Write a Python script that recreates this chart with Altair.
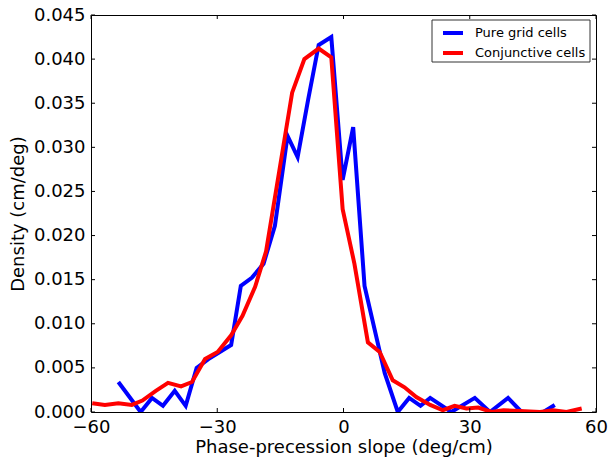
import altair as alt
import pandas as pd

# Pure grid cells
blue_x = [-53.5, -48.2, -45.5, -42.9, -40.1, -37.5, -34.9, -32.1, -29.4, -26.7,
          -24.4, -21.8, -19.0, -16.3, -13.3, -10.9, -8.4, -5.9, -2.9, -0.2,
          2.3, 5.0, 9.8, 12.9, 15.6, 18.3, 20.6, 25.6, 31.2, 34.8, 39.1, 42.3,
          47.5, 50.2]
blue_y = [0.0034, 0.0000, 0.0016, 0.0007, 0.0024, 0.0007, 0.0050, 0.0060, 0.0068, 0.0076,
          0.0143, 0.0152, 0.0168, 0.0211, 0.0313, 0.0289, 0.0354, 0.0416, 0.0425, 0.0263,
          0.0323, 0.0143, 0.0044, 0.0000, 0.0016, 0.0007, 0.0016, 0.0000, 0.0016, 0.0000,
          0.0016, 0.0000, 0.0000, 0.0008]

# Conjunctive cells
red_x = [-59.7, -56.7, -53.5, -50.3, -47.8, -44.6, -41.7, -38.6, -36.0, -32.9,
         -29.9, -26.7, -24.0, -21.0, -18.4, -15.3, -12.2, -9.3, -5.9, -2.9,
         -0.2, 2.6, 5.8, 8.6, 11.7, 14.5, 17.3, 20.6, 23.6, 26.4,
         29.2, 32.0, 35.2, 38.0, 41.9, 46.7, 49.8, 53.0, 56.6]
red_y = [0.0010, 0.0008, 0.0010, 0.0008, 0.0013, 0.0024, 0.0033, 0.0029, 0.0034, 0.0060,
         0.0068, 0.0087, 0.0109, 0.0142, 0.0182, 0.0272, 0.0362, 0.0400, 0.0412, 0.0402,
         0.0230, 0.0168, 0.0079, 0.0068, 0.0036, 0.0028, 0.0017, 0.0008, 0.0002, 0.0007,
         0.0004, 0.0005, 0.0000, 0.0002, 0.0001, 0.0000, 0.0002, 0.0000, 0.0004]

series_names = ["Pure grid cells", "Conjunctive cells"]
series_colors = ["#0000ff", "#ff0000"]

x_ticks = [-60, -30, 0, 30, 60]
y_ticks = [0.000, 0.005, 0.010, 0.015, 0.020, 0.025, 0.030, 0.035, 0.040, 0.045]

W, H = 505, 397
FONT = "DejaVu Sans"

df = pd.concat([
    pd.DataFrame({"x": blue_x, "y": blue_y, "series": series_names[0], "order": range(len(blue_x))}),
    pd.DataFrame({"x": red_x, "y": red_y, "series": series_names[1], "order": range(len(red_x))}),
])

xscale = alt.Scale(domain=[-60, 60], nice=False, zero=False)
yscale = alt.Scale(domain=[0, 0.045], nice=False)

lines = alt.Chart(df).mark_line(strokeWidth=4, clip=True).encode(
    x=alt.X("x:Q", scale=xscale,
            axis=alt.Axis(values=x_ticks, format="d", title="Phase-precession slope (deg/cm)",
                          tickSize=0, domain=False, grid=False, labelPadding=6,
                          labelFontSize=18, titleFontSize=18, titleFontWeight="normal",
                          labelFont=FONT, titleFont=FONT, labelColor="black", titleColor="black",
                          titlePadding=2, labelFlush=False)),
    y=alt.Y("y:Q", scale=yscale,
            axis=alt.Axis(values=y_ticks, format=".3f", title="Density (cm/deg)",
                          tickSize=0, domain=False, grid=False, labelPadding=6,
                          labelFontSize=18, titleFontSize=18, titleFontWeight="normal",
                          labelFont=FONT, titleFont=FONT, labelColor="black", titleColor="black",
                          titlePadding=6, labelFlush=False)),
    color=alt.Color("series:N",
                    scale=alt.Scale(domain=series_names, range=series_colors),
                    sort=series_names,
                    legend=alt.Legend(title=None, orient="none", legendX=343, legendY=5,
                                      symbolType="stroke", symbolStrokeWidth=4, symbolSize=400,
                                      symbolOffset=6, labelFontSize=13, labelFont=FONT,
                                      labelColor="black", labelOffset=10,
                                      padding=1, rowPadding=-1)),
    order="order:Q",
)

# legend frame (matplotlib-style box)
frame = alt.Chart(pd.DataFrame({"a": [0]})).mark_rect(
    fill="white", stroke="#333333", strokeWidth=1
).encode(x=alt.value(341), x2=alt.value(499), y=alt.value(5), y2=alt.value(47))

xt = pd.DataFrame({"v": x_ticks})
yt = pd.DataFrame({"v": y_ticks})
TL = 4
tick_style = dict(color="black", strokeWidth=1)

bottom = alt.Chart(xt).mark_rule(**tick_style).encode(
    x=alt.X("v:Q", scale=xscale), y=alt.value(H), y2=alt.value(H - TL))
top = alt.Chart(xt).mark_rule(**tick_style).encode(
    x=alt.X("v:Q", scale=xscale), y=alt.value(0), y2=alt.value(TL))
left = alt.Chart(yt).mark_rule(**tick_style).encode(
    y=alt.Y("v:Q", scale=yscale), x=alt.value(0), x2=alt.value(TL))
right = alt.Chart(yt).mark_rule(**tick_style).encode(
    y=alt.Y("v:Q", scale=yscale), x=alt.value(W), x2=alt.value(W - TL))

chart = alt.layer(lines, frame, bottom, top, left, right).properties(
    width=W, height=H,
    autosize=alt.AutoSizeParams(type="none"),
    padding={"left": 91, "top": 15, "right": 20, "bottom": 50},
    background="white",
).configure_view(stroke="black", strokeWidth=1)

chart.save("out.html", embed_options={"renderer": "svg", "actions": False})
